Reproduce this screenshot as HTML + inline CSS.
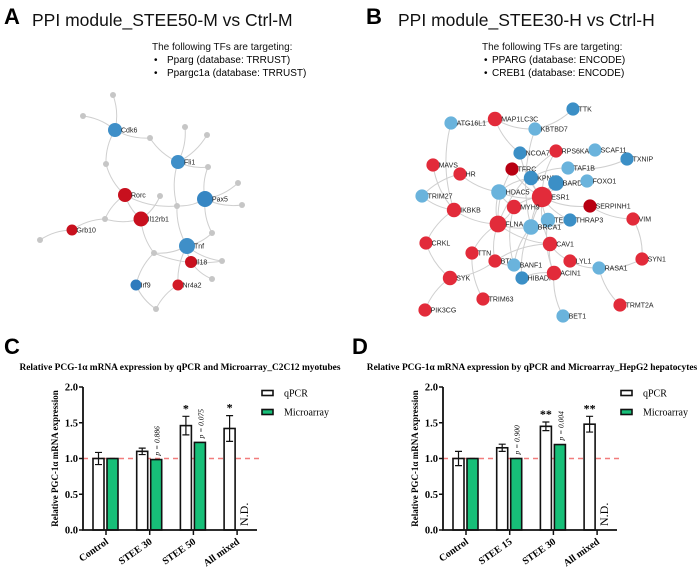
<!DOCTYPE html>
<html><head><meta charset="utf-8"><style>
html,body{margin:0;padding:0;background:#fff;width:700px;height:569px;overflow:hidden}
svg{display:block}
.sans{font-family:"Liberation Sans",Arial,sans-serif}
.serif{font-family:"Liberation Serif","Times New Roman",serif}
</style></head><body>
<svg id="root" width="700" height="569" viewBox="0 0 700 569" xmlns="http://www.w3.org/2000/svg">
<g class="sans">
<text x="4" y="24" font-size="22" font-weight="bold">A</text>
<text x="32" y="26" font-size="17.5" fill="#111">PPI module_STEE50-M vs Ctrl-M</text>
<text x="152" y="50" font-size="10" fill="#111">The following TFs are targeting:</text>
<text x="154" y="63" font-size="10">•<tspan x="167">Pparg (database: TRRUST)</tspan></text>
<text x="154" y="76" font-size="10">•<tspan x="167">Ppargc1a (database: TRRUST)</tspan></text>
<text x="366" y="24" font-size="22" font-weight="bold">B</text>
<text x="398" y="26" font-size="17.5" fill="#111">PPI module_STEE30-H vs Ctrl-H</text>
<text x="482" y="50" font-size="10" fill="#111">The following TFs are targeting:</text>
<text x="484" y="63" font-size="10">•<tspan x="492">PPARG (database: ENCODE)</tspan></text>
<text x="484" y="76" font-size="10">•<tspan x="492">CREB1 (database: ENCODE)</tspan></text>
<text x="4" y="354" font-size="22" font-weight="bold">C</text>
<text x="352" y="354" font-size="22" font-weight="bold">D</text>
</g>
<g id="netA"></g>
<g id="netB"></g>
<g id="chartC"></g>
<g id="chartD"></g>
</svg>
<script>
const NS='http://www.w3.org/2000/svg';
function mk(tag,attrs,parent){const e=document.createElementNS(NS,tag);for(const k in attrs)e.setAttribute(k,attrs[k]);parent.appendChild(e);return e;}

// ---------- Network A ----------
const nodesA=[
['Cdk6',115,130,7,'#3f8fc8'],['Fli1',178,162,7,'#3f8fc8'],['Pax5',205,199,8,'#3686c3'],['Tnf',187,246,8,'#3f8fc8'],['Irf9',136,285,5.5,'#2f7bbd'],
['Rorc',125,195,7,'#c8101e'],['Il12rb1',141,219,7.5,'#c8101e'],['Grb10',72,230,5.5,'#c8101e'],['Il18',191,262,6,'#c8101e'],['Nr4a2',178,285,5.5,'#d21a26'],
['g1',113,95,3],['g2',83,116,3],['g3',150,138,3],['g4',106,164,3],['g5',185,127,3],['g6',207,135,3],['g7',208,167,3],['g8',160,196,3],['g9',177,206,3],
['g10',238,183,3],['g11',242,205,3],['g12',105,219,3],['g13',40,240,3],['g14',212,233,3],['g15',154,253,3],['g16',222,261,3],['g17',212,279,3],['g18',156,309,3]];
const edgesA=[['Cdk6','g1'],['Cdk6','g2'],['Cdk6','g3'],['g3','Fli1'],['Cdk6','g4'],['g4','Rorc'],['Fli1','g5'],['Fli1','g6'],['Fli1','g7'],['g7','Pax5'],['Fli1','g9'],
['Rorc','g9'],['Rorc','Il12rb1'],['Rorc','g12'],['g12','Il12rb1'],['g12','Grb10'],['Grb10','g13'],['Il12rb1','g8'],['g9','Pax5'],['Pax5','g10'],['Pax5','g11'],['Pax5','g14'],
['g9','Tnf'],['Il12rb1','g15'],['g15','Tnf'],['g15','Irf9'],['g15','g16'],['Tnf','g14'],['Tnf','Il18'],['Tnf','g16'],['Il18','g17'],['Tnf','Nr4a2'],['Irf9','g18'],['Nr4a2','g18']];
function drawNet(g,nodes,edges,fs,rs){
  const idx={};nodes.forEach(n=>idx[n[0]]=n);
  edges.forEach(e=>{const a=idx[e[0]],b=idx[e[1]];const mx=(a[1]+b[1])/2,my=(a[2]+b[2])/2;const dx=b[1]-a[1],dy=b[2]-a[2];
    const p=mk('path',{d:`M${a[1]},${a[2]} Q${mx-dy*0.15},${my+dx*0.15} ${b[1]},${b[2]}`,fill:'none',stroke:'#cfcfcf','stroke-width':1},g);
    
    });
  nodes.forEach(n=>{const r=n[3]*rs;const c=mk('circle',{cx:n[1],cy:n[2],r:r,fill:n[4]||'#c6c6c6'},g);
    
    
    if(n[4]){const t=mk('text',{x:n[1]+r-1,y:n[2]+2.5,'font-size':fs,fill:'#222','font-family':'Liberation Sans, sans-serif'},g);t.textContent=n[0];
      
      }});
}
drawNet(document.getElementById('netA'),nodesA,edgesA,7,1);

// ---------- Network B ----------
const LB='#6ab3dc',MB='#3b8fc6',RD='#e22b3a',DR='#b80012';
const nodesB=[
['TTK',573,109,5.5,MB],['ATG16L1',451,123,5.5,LB],['MAP1LC3C',495,119,6,RD],['KBTBD7',535,129,5.5,LB],['NCOA7',520,153,5.5,MB],['RPS6KA1',556,151,5.5,RD],
['SCAF11',595,150,5.5,LB],['TXNIP',627,159,5.5,MB],['MAVS',433,165,5.5,RD],['HR',460,174,5.5,RD],['TFRC',512,169,5.5,DR],['TAF1B',568,168,5.5,LB],
['KPNB1',531,178,6,MB],['BARD1',556,183,6.5,MB],['FOXO1',587,181,5.5,LB],['TRIM27',422,196,5.5,LB],['HDAC5',499,192,6.5,LB],['ESR1',542,197,8.5,RD],
['SERPINH1',590,206,5.5,DR],['MYH9',514,207,6,RD],['IKBKB',454,210,6,RD],['VIM',633,219,5.5,RD],['TERF2',548,220,6,LB],['THRAP3',570,220,5.5,MB],
['FLNA',498,224,7,RD],['BRCA1',531,227,6.5,LB],['CRKL',426,243,5.5,RD],['CAV1',550,244,6,RD],['TTN',472,253,5.5,RD],['LYL1',570,261,5.5,RD],
['SYN1',642,259,5.5,RD],['BTK',495,261,5.5,RD],['BANF1',514,265,5.5,LB],['RASA1',599,268,5.5,LB],['SYK',450,278,6,RD],['HIBADH',522,278,5.5,MB],
['ACIN1',554,273,6,RD],['TRIM63',483,299,5.5,RD],['TRMT2A',620,305,5.5,RD],['PIK3CG',425,310,5.5,RD],['BET1',563,316,5.5,LB]];
const edgesB=[['ATG16L1','MAP1LC3C'],['ATG16L1','IKBKB'],['MAP1LC3C','KBTBD7'],['MAP1LC3C','NCOA7'],['KBTBD7','TTK'],['KBTBD7','BRCA1'],['NCOA7','ESR1'],['RPS6KA1','ESR1'],
['RPS6KA1','FLNA'],['TAF1B','TXNIP'],['TAF1B','KPNB1'],['FOXO1','ESR1'],['MAVS','IKBKB'],['HR','HDAC5'],['HR','TRIM27'],['TRIM27','IKBKB'],['TFRC','ESR1'],['TFRC','FLNA'],
['KPNB1','ESR1'],['KPNB1','HDAC5'],['BARD1','BRCA1'],['BARD1','ESR1'],['HDAC5','ESR1'],['HDAC5','MYH9'],['HDAC5','FLNA'],['ESR1','SERPINH1'],['ESR1','MYH9'],
['ESR1','TERF2'],['ESR1','THRAP3'],['ESR1','BRCA1'],['ESR1','CAV1'],['SERPINH1','VIM'],['IKBKB','FLNA'],['IKBKB','CRKL'],['FLNA','MYH9'],['FLNA','TTN'],['FLNA','BTK'],
['FLNA','CAV1'],['FLNA','BRCA1'],['BRCA1','BANF1'],['BRCA1','THRAP3'],['BRCA1','HIBADH'],['CAV1','LYL1'],['CAV1','ACIN1'],['CAV1','BTK'],['LYL1','RASA1'],['RASA1','SYN1'],
['SYN1','VIM'],['RASA1','TRMT2A'],['CRKL','SYK'],['SYK','PIK3CG'],['SYK','BTK'],['TTN','TRIM63'],['BTK','BANF1'],['ACIN1','BET1'],['ACIN1','HIBADH'],['TERF2','ACIN1'],['MYH9','BANF1']];
drawNet(document.getElementById('netB'),nodesB,edgesB,7,1.2);

// ---------- Bar charts ----------
const catsC=['Control','STEE 30','STEE 50','All mixed'];
const qpcrC=[1.0,1.10,1.46,1.42];
const qpcrErrC=[0.085,0.045,0.13,0.18];
const microC=[1.0,0.985,1.225,null];
const starsC=['','','*','*'];
const pvalC=['','p = 0.886','p = 0.075',''];
const titleC='Relative PCG-1\u03b1 mRNA expression by qPCR and Microarray_C2C12 myotubes';

const catsD=['Control','STEE 15','STEE 30','All mixed'];
const qpcrD=[1.0,1.15,1.45,1.48];
const qpcrErrD=[0.1,0.05,0.06,0.11];
const microD=[1.0,1.0,1.195,null];
const starsD=['','','**','**'];
const pvalD=['','p = 0.900','p = 0.004',''];
const titleD='Relative PCG-1\u03b1 mRNA expression by qPCR and Microarray_HepG2 hepatocytes';

const yTicks=[0.0,0.5,1.0,1.5,2.0];
const yTickLabels=['0.0','0.5','1.0','1.5','2.0'];

function drawBars(g,ox,cats,q,qe,m,stars,pv,title,titleX,legX){
  const y0=530,yTop=387,yMax=2.0;
  const ys=v=>y0-(v/yMax)*(y0-yTop);
  const xs=i=>ox+23+i*43.7;
  const F='Liberation Serif, serif';
  let t=mk('text',{x:titleX,y:370,'font-size':9.4,'font-weight':'bold','font-family':F,'text-anchor':'middle'},g);t.textContent=title;
  
  let rl=mk('line',{x1:ox,x2:ox+180,y1:ys(1),y2:ys(1),stroke:'#f27c7c','stroke-width':1.5,'stroke-dasharray':'5,4'},g);
  
  cats.forEach((c,i)=>{
    const cx=xs(i);
    let b=mk('rect',{x:cx-13,y:ys(q[i]),width:11,height:y0-ys(q[i]),fill:'#fff',stroke:'#111','stroke-width':1.6},g);
    
    const bx=cx-7.5;
    let eb=mk('path',{d:`M${bx},${ys(q[i]-qe[i])}V${ys(q[i]+qe[i])}M${bx-3.5},${ys(q[i]-qe[i])}h7M${bx-3.5},${ys(q[i]+qe[i])}h7`,stroke:'#111','stroke-width':1.2,fill:'none'},g);
    
    if(m[i]!==null){let mb=mk('rect',{x:cx+1,y:ys(m[i]),width:11,height:y0-ys(m[i]),fill:'#17bf78',stroke:'#111','stroke-width':1.6},g);
      }
    else{let nd=mk('text',{transform:`translate(${cx+11},${y0-4}) rotate(-90)`,'font-size':12,'font-family':F},g);nd.textContent='N.D.';
      }
    if(stars[i]){let s=mk('text',{x:bx,y:ys(q[i]+qe[i])-4,'font-size':12,'font-weight':'bold','font-family':F,'text-anchor':'middle'},g);s.textContent=stars[i];
      }
    if(pv[i]){const px=cx+10,py=ys(m[i])-4;let p=mk('text',{transform:`translate(${px},${py}) rotate(-90)`,'font-size':7.5,'font-style':'italic','font-family':F},g);p.textContent=pv[i];
      }
    let tk=mk('line',{x1:cx,x2:cx,y1:y0,y2:y0+5,stroke:'#111','stroke-width':1.5},g);
    
    let xl=mk('text',{transform:`translate(${cx+3},${y0+13}) rotate(-35)`,'font-size':10,'font-weight':'bold','font-family':F,'text-anchor':'end'},g);xl.textContent=c;
    
  });
  let ax=mk('path',{d:`M${ox},${yTop}V${y0}H${ox+174}`,stroke:'#111','stroke-width':1.8,fill:'none'},g);
  
  yTicks.forEach((v,i)=>{
    let l=mk('line',{x1:ox-4,x2:ox,y1:ys(v),y2:ys(v),stroke:'#111','stroke-width':1.5},g);
    
    let tt=mk('text',{x:ox-5,y:ys(v)+3.5,'font-size':10.5,'font-weight':'bold','font-family':F,'text-anchor':'end'},g);tt.textContent=yTickLabels[i];
    
  });
  let yl=mk('text',{transform:`translate(${ox-25},${(y0+yTop)/2}) rotate(-90)`,'font-size':9,'font-weight':'bold','font-family':F,'text-anchor':'middle'},g);
  yl.textContent='Relative PGC-1\u03b1 mRNA expression';
  
  [['qPCR','#fff',393],['Microarray','#17bf78',412]].forEach(L=>{
    let r=mk('rect',{x:legX,y:L[2]-2.5,width:11,height:5,fill:L[1],stroke:'#111','stroke-width':1.6},g);
    
    let lt=mk('text',{x:legX+22,y:L[2]+3.5,'font-size':10,'font-family':F},g);lt.textContent=L[0];
    
  });
}
drawBars(document.getElementById('chartC'),83,catsC,qpcrC,qpcrErrC,microC,starsC,pvalC,titleC,180,262);
drawBars(document.getElementById('chartD'),443,catsD,qpcrD,qpcrErrD,microD,starsD,pvalD,titleD,532,621);
</script>
</body></html>
